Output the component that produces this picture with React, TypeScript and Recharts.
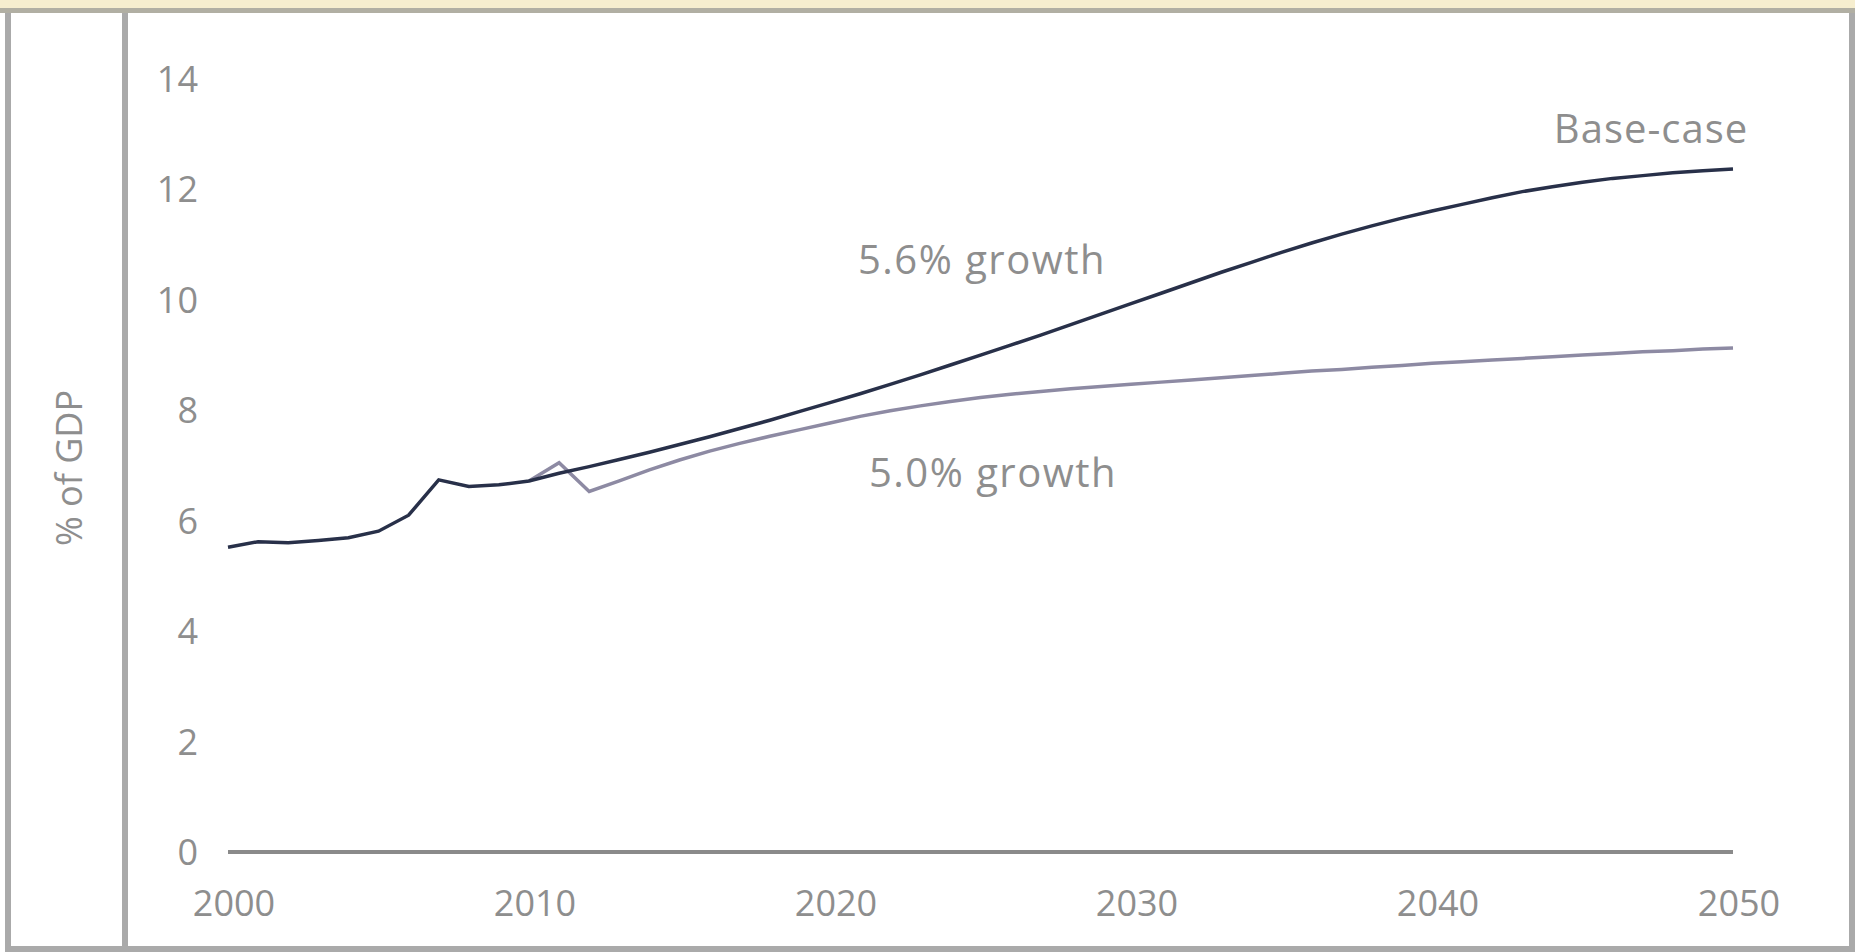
import { LineChart, Line, XAxis, YAxis } from "recharts";

const years = [
  2000, 2001, 2002, 2003, 2004, 2005, 2006, 2007, 2008, 2009,
  2010, 2011, 2012, 2013, 2014, 2015, 2016, 2017, 2018, 2019,
  2020, 2021, 2022, 2023, 2024, 2025, 2026, 2027, 2028, 2029,
  2030, 2031, 2032, 2033, 2034, 2035, 2036, 2037, 2038, 2039,
  2040, 2041, 2042, 2043, 2044, 2045, 2046, 2047, 2048, 2049, 2050,
];

// base-case, 5.6% growth
const baseCase = [
  5.52, 5.62, 5.6, 5.64, 5.69, 5.81, 6.1, 6.74, 6.62, 6.65,
  6.72, 6.86, 6.98, 7.11, 7.24, 7.38, 7.52, 7.67, 7.82, 7.98,
  8.14, 8.3, 8.47, 8.64, 8.82, 9.0, 9.18, 9.36, 9.55, 9.74,
  9.93, 10.12, 10.31, 10.5, 10.68, 10.86, 11.03, 11.19, 11.34, 11.48,
  11.61, 11.73, 11.85, 11.96, 12.05, 12.13, 12.2, 12.25, 12.3, 12.34, 12.37,
];

// 5.0% growth, splits off from 2010
const lowGrowth = [
  null, null, null, null, null, null, null, null, null, null,
  6.72, 7.05, 6.53, 6.72, 6.92, 7.1, 7.26, 7.4, 7.53, 7.65,
  7.77, 7.89, 7.99, 8.08, 8.16, 8.23, 8.29, 8.34, 8.39, 8.43,
  8.47, 8.51, 8.55, 8.59, 8.63, 8.67, 8.71, 8.74, 8.78, 8.81,
  8.85, 8.88, 8.91, 8.94, 8.97, 9.0, 9.03, 9.06, 9.08, 9.11, 9.13,
];

const xTicks = [2000, 2010, 2020, 2030, 2040, 2050];
const yTicks = [0, 2, 4, 6, 8, 10, 12, 14];

const data = years.map((year, i) => ({ year, base: baseCase[i], low: lowGrowth[i] }));

const W = 1855;
const H = 952;
const font = "'Open Sans', sans-serif";
const textColor = "#8e8e8e";
const frame = "#aaaaaa";

const XTick = (props: any) => (
  <text x={props.x + 6} y={props.y + 64} textAnchor="middle" fontSize={36} fill={textColor} fontFamily={font}>
    {props.payload.value}
  </text>
);

const YTick = (props: any) => (
  <text x={props.x - 30} y={props.y + 13} textAnchor="end" fontSize={36} fill={textColor} fontFamily={font}>
    {props.payload.value}
  </text>
);

export default function App() {
  return (
    <div style={{ position: "absolute", left: 0, top: 0, width: W, height: H, background: "#fff" }}>
      <svg width={W} height={H} style={{ position: "absolute", left: 0, top: 0 }}>
        <rect x={0} y={0} width={W} height={8} fill="#f6eecf" />
        <rect x={0} y={8} width={W} height={5} fill="#b1afa3" />
        <rect x={5} y={13} width={6} height={H - 13} fill={frame} />
        <rect x={122} y={13} width={6} height={H - 19} fill={frame} />
        <rect x={1849} y={13} width={6} height={H - 13} fill={frame} />
        <rect x={5} y={946} width={W - 5} height={6} fill={frame} />
        <text
          x={0}
          y={0}
          transform="translate(82,468) rotate(-90)"
          textAnchor="middle"
          fontSize={36}
          fill={textColor}
          fontFamily={font}
        >
          % of GDP
        </text>
      </svg>
      <div style={{ position: "absolute", left: 0, top: 0 }}>
        <LineChart width={W} height={H} data={data} margin={{ top: 79, right: 122, bottom: 40, left: 128 }}>
          <XAxis
            dataKey="year"
            type="number"
            domain={[2000, 2050]}
            ticks={xTicks}
            tick={XTick}
            tickLine={false}
            tickSize={0}
            tickMargin={0}
            height={60}
            axisLine={{ stroke: "#8a8a8a", strokeWidth: 4 }}
          />
          <YAxis
            type="number"
            domain={[0, 14]}
            ticks={yTicks}
            tick={YTick}
            tickLine={false}
            tickSize={0}
            tickMargin={0}
            axisLine={false}
            width={100}
          />
          <Line dataKey="low" stroke="#8d8aa3" strokeWidth={3.5} dot={false} type="linear" isAnimationActive={false} />
          <Line dataKey="base" stroke="#283049" strokeWidth={3.5} dot={false} type="linear" isAnimationActive={false} />
        </LineChart>
      </div>
      <svg width={W} height={H} style={{ position: "absolute", left: 0, top: 0, pointerEvents: "none" }}>
        <text x={1651} y={143} textAnchor="middle" fontSize={40} letterSpacing={1} fill={textColor} fontFamily={font}>
          Base-case
        </text>
        <text x={982} y={274} textAnchor="middle" fontSize={40} letterSpacing={1.5} fill={textColor} fontFamily={font}>
          5.6% growth
        </text>
        <text x={993} y={487} textAnchor="middle" fontSize={40} letterSpacing={1.5} fill={textColor} fontFamily={font}>
          5.0% growth
        </text>
      </svg>
    </div>
  );
}
